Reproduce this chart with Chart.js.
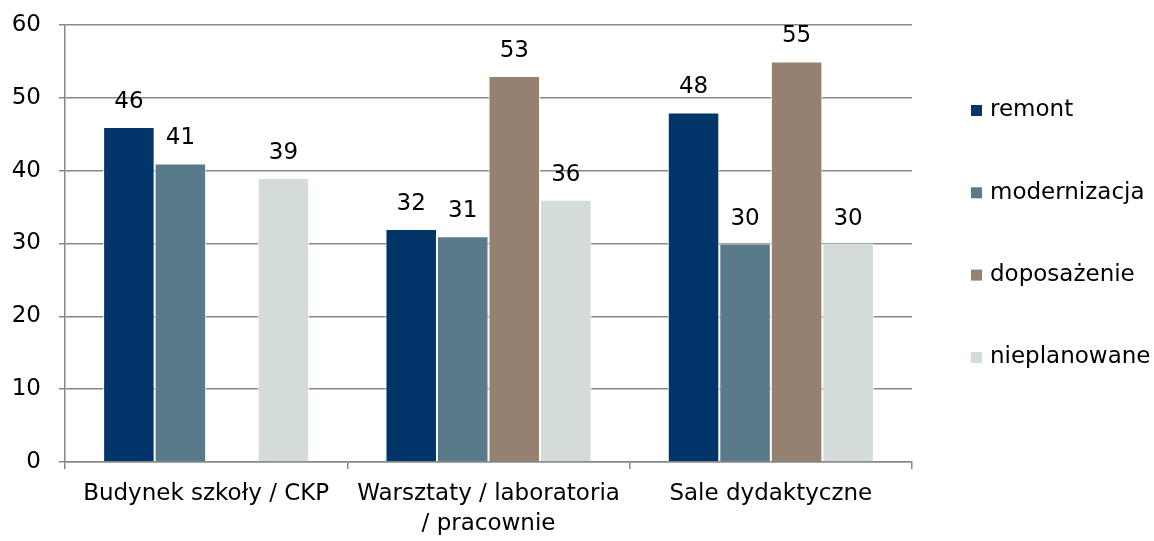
<!DOCTYPE html>
<html>
<head>
<meta charset="utf-8">
<script src="https://cdn.jsdelivr.net/npm/chart.js@4/dist/chart.umd.min.js"></script>
<style>
  html, body { margin: 0; padding: 0; background: #fff; }
  #wrap { width: 1154px; height: 541px; }
</style>
</head>
<body>
<div id="wrap"><canvas id="chart" width="1154" height="541"></canvas></div>
<script>
const categories = ["Budynek szkoły / CKP", ["Warsztaty / laboratoria", "/ pracownie"], "Sale dydaktyczne"];
const seriesNames = ["remont", "modernizacja", "doposażenie", "nieplanowane"];
const remont = [46, 32, 48];
const modernizacja = [41, 31, 30];
const doposazenie = [null, 53, 55];
const nieplanowane = [39, 36, 30];
const colors = ["#02366A", "#587A8A", "#948170", "#D3DCDB"];

const FONT = "DejaVu Sans";

// draw the value above each bar
const valueLabels = {
  id: "valueLabels",
  afterDatasetsDraw(chart) {
    const ctx = chart.ctx;
    ctx.save();
    ctx.font = "23px '" + FONT + "'";
    ctx.fillStyle = "#000";
    ctx.textAlign = "center";
    ctx.textBaseline = "alphabetic";
    chart.data.datasets.forEach((ds, i) => {
      const meta = chart.getDatasetMeta(i);
      meta.data.forEach((bar, j) => {
        const v = ds.data[j];
        if (v === null || v === undefined) return;
        ctx.fillText(String(v), bar.x, bar.y - 19);
      });
    });
    ctx.restore();
  }
};

// legend drawn by hand so the spacing matches the original
const sideLegend = {
  id: "sideLegend",
  afterDraw(chart) {
    const ctx = chart.ctx;
    const area = chart.chartArea;
    ctx.save();
    ctx.font = "23px '" + FONT + "'";
    ctx.textBaseline = "middle";
    ctx.textAlign = "left";
    chart.data.datasets.forEach((ds, i) => {
      const y = area.top + 85.5 + i * 82.3;
      const x = area.right + 59;
      ctx.fillStyle = ds.backgroundColor;
      ctx.fillRect(x, y - 5.5, 11, 11);
      ctx.fillStyle = "#000";
      ctx.fillText(ds.label, x + 19, y);
    });
    ctx.restore();
  }
};

const datasets = [remont, modernizacja, doposazenie, nieplanowane].map((d, i) => ({
  label: seriesNames[i],
  data: d,
  backgroundColor: colors[i],
  borderColor: "#ffffff",
  borderWidth: 1,
  categoryPercentage: 0.73,
  barPercentage: 1.0,
}));

new Chart(document.getElementById("chart"), {
  type: "bar",
  data: { labels: categories, datasets: datasets },
  options: {
    responsive: false,
    animation: false,
    layout: { padding: { top: 25, right: 242, left: 11, bottom: 2 } },
    plugins: {
      legend: { display: false },
      tooltip: { enabled: false },
    },
    scales: {
      x: {
        afterFit(scale) {
          scale.paddingLeft = 0;
          scale.paddingRight = 0;
          scale.height = 77;
        },
        grid: {
          offset: true,
          drawOnChartArea: false,
          color: "#888",
          lineWidth: 1.5,
          tickLength: 7,
        },
        border: { color: "#888", width: 1.5 },
        ticks: {
          font: { family: FONT, size: 23, lineHeight: 1.3 },
          color: "#000",
          maxRotation: 0,
          autoSkip: false,
          padding: 10,
        }
      },
      y: {
        min: 0,
        max: 60,
        afterFit(scale) {
          scale.paddingTop = 0;
          scale.paddingBottom = 0;
          scale.width = 54;
        },
        ticks: {
          stepSize: 10,
          font: { family: FONT, size: 23 },
          color: "#000",
          padding: 18,
        },
        grid: { color: "#888", lineWidth: 1.5, tickLength: 6 },
        border: { color: "#888", width: 1.5 },
      }
    }
  },
  plugins: [valueLabels, sideLegend]
});
</script>
</body>
</html>
